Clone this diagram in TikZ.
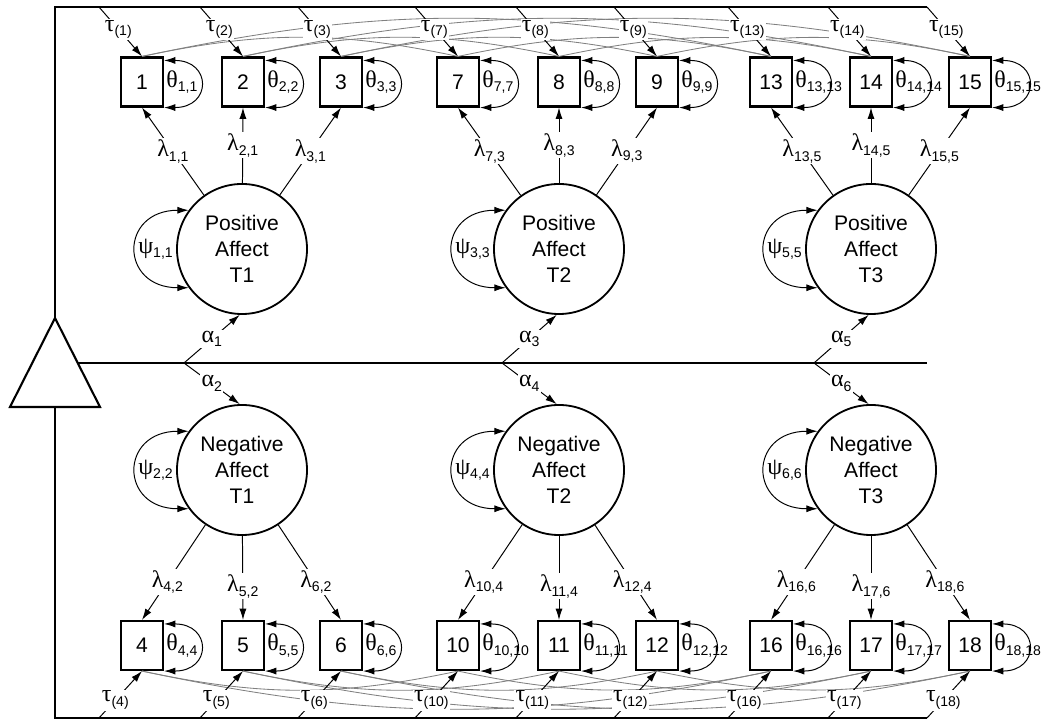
\documentclass[tikz,border=0pt]{standalone}
\usepackage{fontspec}
\setmainfont{Liberation Sans}
\newfontfamily\grk{Liberation Serif}
\usetikzlibrary{arrows.meta,calc}
% greek symbol with lowered index
\newcommand{\gsym}[2]{{\fontsize{17}{18}\selectfont\grk #1}\raisebox{-0.6ex}{\fontsize{10}{10}\selectfont #2}}
\tikzset{
  ind/.style={draw, line width=1.5pt, minimum width=1.05cm, minimum height=1.225cm,
    inner sep=0pt, font=\fontsize{15}{16}\selectfont},
  lat/.style={draw, circle, line width=1.3pt, minimum size=3.25cm, inner sep=0pt,
    align=center, font=\fontsize{15}{18.5}\selectfont},
  arr/.style={-{Latex[length=8pt,width=5pt]}, line width=0.7pt},
  dbl/.style={{Latex[length=8pt,width=5pt]}-{Latex[length=8pt,width=5pt]}, line width=0.7pt},
  lab/.style={fill=white, inner sep=1pt},
  cov/.style={gray, line width=0.6pt},
  frame/.style={line width=1.5pt},
}

\begin{document}
\begin{tikzpicture}[x=0.025cm, y=0.025cm]
  \useasboundingbox (0,0) rectangle (1042,723);
  % indicators, upper and lower row
  \foreach \n/\x in {1/142,2/243,3/341,7/458,8/559,9/657,13/771,14/871,15/970}
    \node[ind] (b\n) at (\x,641) {\n};
  \foreach \n/\x in {4/142,5/243,6/341,10/458,11/559,12/657,16/771,17/871,18/970}
    \node[ind] (b\n) at (\x,77.5) {\n};
  % latent factors
  \node[lat] (pa1) at (242,474) {Positive\\Affect\\T1};
  \node[lat] (pa2) at (559,474) {Positive\\Affect\\T2};
  \node[lat] (pa3) at (871,474) {Positive\\Affect\\T3};
  \node[lat] (na1) at (242,253) {Negative\\Affect\\T1};
  \node[lat] (na2) at (559,253) {Negative\\Affect\\T2};
  \node[lat] (na3) at (871,253) {Negative\\Affect\\T3};
  % correlated residuals over time (gray)
  \foreach \a/\b in {1/7,1/13,7/13,2/8,2/14,8/14,3/9,3/15,9/15}
    \draw[cov] (b\a.north) to[bend left=12] (b\b.north);
  \foreach \a/\b in {4/10,4/16,10/16,5/11,5/17,11/17,6/12,6/18,12/18}
    \draw[cov] (b\a.south) to[bend right=12] (b\b.south);
  % constant: triangle and frame
  \coordinate (top) at (55,405);
  \coordinate (bl) at (10,316);
  \coordinate (br) at (100,316);
  \coordinate (bot) at (55,316);
  \draw[frame] (top) -- (br) -- (bl) -- cycle;
  \draw[frame] (top) -- (55,716) -- (927,716);
  \draw[frame] (bot) -- (55,5) -- (927,5);
  \draw[frame] (78,360) -- (927,360);
  % intercepts tau
  \foreach \n/\x in {1/142,2/243,3/341,7/458,8/559,9/657,13/771,14/871,15/970}{
    \coordinate (s\n) at (\x-43,716);
    \draw[arr] (s\n) -- node[lab,pos=0.45] (tau\n) {\gsym{τ}{(\n)}} (b\n.north);
  }
  \foreach \n/\x in {4/142,5/243,6/341,10/458,11/559,12/657,16/771,17/871,18/970}{
    \coordinate (s\n) at (\x-43,5);
    \draw[arr] (s\n) -- node[lab,pos=0.38] (tau\n) {\gsym{τ}{(\n)}} (b\n.south);
  }
  % loadings
  \foreach \n/\f/\s in {1/pa1/{1,1},2/pa1/{2,1},3/pa1/{3,1},7/pa2/{7,3},8/pa2/{8,3},
      9/pa2/{9,3},13/pa3/{13,5},14/pa3/{14,5},15/pa3/{15,5}}
    \draw[arr] (\f) -- node[lab] (lam\n) {\gsym{λ}{\s}} (b\n.south);
  \foreach \n/\f/\s in {4/na1/{4,2},5/na1/{5,2},6/na1/{6,2},10/na2/{10,4},11/na2/{11,4},
      12/na2/{12,4},16/na3/{16,6},17/na3/{17,6},18/na3/{18,6}}
    \draw[arr] (\f) -- node[lab,pos=0.6] (lam\n) {\gsym{λ}{\s}} (b\n.north);
  % residual variances theta
  \foreach \n in {1,2,3,7,8,9,13,14,15,4,5,6,10,11,12,16,17,18}{
    \draw[dbl] ($(b\n.north east)+(0,-4)$) to[out=0,in=0,looseness=2.6] (b\n.south east);
    \node[anchor=west, inner sep=0pt] (th\n) at ($(b\n.east)+(2,0)$) {\gsym{θ}{\n,\n}};
  }
  % factor variances psi
  \foreach \f/\s in {pa1/{1,1},na1/{2,2},pa2/{3,3},na2/{4,4},pa3/{5,5},na3/{6,6}}{
    \draw[dbl] (\f.144) to[out=180,in=180,looseness=2.3] (\f.216);
    \node[anchor=east, inner sep=0pt] (psi\f) at ($(\f.west)+(-3,0)$) {\gsym{ψ}{\s}};
  }
  % means alpha
  \foreach \x/\p/\q/\i/\j in {184/pa1/na1/1/2,502/pa2/na2/3/4,814/pa3/na3/5/6}{
    \coordinate (m\i) at (\x,360);
    \draw[arr] (m\i) -- node[lab] (al\i) {\gsym{α}{\i}} (\p.268);
    \draw[arr] (m\i) -- node[lab] (al\j) {\gsym{α}{\j}} (\q.92);
  }
\end{tikzpicture}
\end{document}
